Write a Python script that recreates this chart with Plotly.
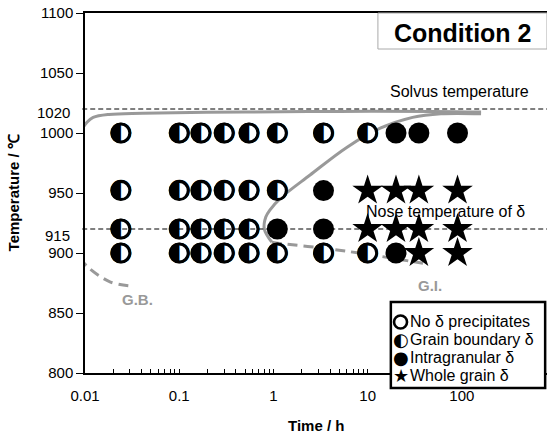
import plotly.graph_objects as go

# ---------------- data ----------------
# Grain boundary delta (half-filled circles)
gb_time = [0.024, 0.1, 0.17, 0.3, 0.55, 1.1, 3.4, 10,
           0.024, 0.1, 0.17, 0.3, 0.55, 1.1,
           0.024, 0.1, 0.17, 0.3, 0.55,
           0.024, 0.1, 0.17, 0.3, 0.55, 1.1, 3.4, 10]
gb_temp = [1000] * 8 + [952] * 6 + [920] * 5 + [900] * 8

# Intragranular delta (filled circles)
ig_time = [20, 35, 90, 3.4, 1.1, 3.4, 20]
ig_temp = [1000, 1000, 1000, 952, 920, 920, 900]

# Whole grain delta (stars)
wg_time = [10, 20, 35, 90, 10, 20, 35, 90, 35, 90]
wg_temp = [952] * 4 + [920] * 4 + [900] * 2

# boundary curves
gb_upper_time = [0.0091, 0.0105, 0.0122, 0.018, 0.041, 0.5, 5, 50, 160]
gb_upper_temp = [1002, 1009, 1013, 1015.5, 1016.5, 1017.5, 1018, 1018, 1017.5]

gi_upper_time = [0.96, 0.80, 0.83, 0.921, 1.2, 2.45, 6, 13.6, 30, 60, 160]
gi_upper_temp = [909, 920, 930, 936, 946, 965, 988, 1004, 1013, 1016, 1016]

gb_lower_time = [0.0088, 0.0108, 0.0184, 0.030]
gb_lower_temp = [896, 888, 876, 872.5]

gi_lower_time = [0.96, 1.175, 3.39, 9.8, 38.7]
gi_lower_temp = [909, 908, 904, 899, 891.4]

solvus_temp = 1020
nose_temp = 920

x_major = [0.01, 0.1, 1, 10, 100]
x_major_text = ["0.01", "0.1", "1", "10", "100"]
y_tickvals = [800, 850, 900, 950, 1000, 1050, 1100]
y_ticktext = ["800", "850", "900", "950", "1000", "1050", "1100"]
extra_labels = [("1020", 1017), ("915", 915)]

legend_items = ["No δ precipitates", "Grain boundary δ", "Intragranular δ", "Whole grain δ"]
legend_symbols = [None, "◐", "●", "★"]

FONT = "Liberation Sans, Arial, sans-serif"
GRAY = "#999999"

# tick positions 1..9 per decade (labels only on decades)
x_tickvals, x_ticktext = [], []
for d, lab in zip(x_major, x_major_text):
    for m in range(1, 10):
        v = round(d * m, 6)
        if v > 800:
            break
        x_tickvals.append(v)
        x_ticktext.append(lab if m == 1 else "")

fig = go.Figure()

# curves
fig.add_trace(go.Scatter(x=gb_upper_time, y=gb_upper_temp, mode="lines",
                         line=dict(color=GRAY, width=3, shape="spline"), showlegend=False))
fig.add_trace(go.Scatter(x=gi_upper_time, y=gi_upper_temp, mode="lines",
                         line=dict(color=GRAY, width=3, shape="spline"), showlegend=False))
fig.add_trace(go.Scatter(x=gb_lower_time, y=gb_lower_temp, mode="lines",
                         line=dict(color=GRAY, width=3, shape="spline", dash="10px,6px"),
                         showlegend=False))
fig.add_trace(go.Scatter(x=gi_lower_time, y=gi_lower_temp, mode="lines",
                         line=dict(color=GRAY, width=3, shape="spline", dash="10px,6px"),
                         showlegend=False))

# grain boundary: white disc with black ring + half-black glyph
fig.add_trace(go.Scatter(x=gb_time, y=gb_temp, mode="markers+text",
                         marker=dict(symbol="circle", size=18, color="white",
                                     line=dict(color="black", width=3)),
                         text=["◐"] * len(gb_time), textposition="middle center",
                         textfont=dict(family="DejaVu Sans", size=27, color="black"),
                         showlegend=False))
fig.add_trace(go.Scatter(x=ig_time, y=ig_temp, mode="markers",
                         marker=dict(symbol="circle", size=21, color="black",
                                     line=dict(width=0)), showlegend=False))
fig.add_trace(go.Scatter(x=wg_time, y=wg_temp, mode="markers",
                         marker=dict(symbol="star", size=23, color="black",
                                     line=dict(width=0)), showlegend=False))

# reference lines
for t in (solvus_temp, nose_temp):
    fig.add_shape(type="line", xref="paper", yref="y", x0=-0.006, x1=1, y0=t, y1=t,
                  line=dict(color="black", width=1, dash="5px,3px"))

ann = []
for txt, yv in extra_labels:
    ann.append(dict(x=0, xref="paper", y=yv, yref="y", text=txt, showarrow=False,
                    xanchor="right", yanchor="middle", xshift=-13,
                    font=dict(family=FONT, size=15, color="black")))

ann += [
    dict(x=1.970, y=1034.6, xref="x", yref="y", text="Solvus temperature", showarrow=False,
         xanchor="center", yanchor="middle", font=dict(family=FONT, size=16, color="black")),
    dict(x=1.822, y=934.3, xref="x", yref="y", text="Nose temperature of δ", showarrow=False,
         xanchor="center", yanchor="middle", font=dict(family=FONT, size=16, color="black")),
    dict(x=-1.448, y=861, xref="x", yref="y", text="<b>G.B.</b>", showarrow=False,
         xanchor="center", yanchor="middle", font=dict(family=FONT, size=15, color=GRAY)),
    dict(x=1.662, y=873.3, xref="x", yref="y", text="<b>G.I.</b>", showarrow=False,
         xanchor="center", yanchor="middle", font=dict(family=FONT, size=15, color=GRAY)),
    dict(x=0.817, y=0.944, xref="paper", yref="paper", text="<b>Condition 2</b>", showarrow=False,
         xanchor="center", yanchor="middle", font=dict(family=FONT, size=25, color="black")),
    dict(x=-0.155, y=0.5, xref="paper", yref="paper", text="<b>Temperature / ℃</b>",
         textangle=-90, showarrow=False, xanchor="center", yanchor="middle",
         font=dict(family=FONT, size=15, color="black")),
    dict(x=0.5, y=-0.147, xref="paper", yref="paper", text="<b>Time / h</b>",
         showarrow=False, xanchor="center", yanchor="middle",
         font=dict(family=FONT, size=15, color="black")),
]

# condition box and legend box
fig.add_shape(type="rect", xref="paper", yref="paper", x0=0.634, x1=1.0, y0=0.9, y1=1.0,
              line=dict(color="#aaaaaa", width=1), fillcolor="white", layer="above")
fig.add_shape(type="rect", xref="paper", yref="paper", x0=0.662, x1=0.996, y0=-0.042, y1=0.197,
              line=dict(color="black", width=2.5), fillcolor="white", layer="above")

leg_y = [0.1417, 0.0917, 0.0417, -0.0083]
leg_sym_x = 0.683
for lab, sym, yy in zip(legend_items, legend_symbols, leg_y):
    if sym is None:
        fig.add_shape(type="circle", xref="paper", yref="paper",
                      xsizemode="pixel", ysizemode="pixel", xanchor=leg_sym_x, yanchor=yy,
                      x0=-6.5, x1=6.5, y0=-6.5, y1=6.5,
                      line=dict(color="black", width=2.6), fillcolor="white", layer="above")
    else:
        ann.append(dict(x=leg_sym_x, y=yy, xref="paper", yref="paper", text=sym,
                        showarrow=False, xanchor="center", yanchor="middle",
                        font=dict(family="DejaVu Sans", size=18, color="black")))
    ann.append(dict(x=0.700, y=yy, xref="paper", yref="paper", text=lab, showarrow=False,
                    xanchor="left", yanchor="middle",
                    font=dict(family=FONT, size=16, color="black")))

fig.update_layout(
    width=547, height=440,
    margin=dict(l=85, r=0, t=13, b=67),
    paper_bgcolor="white", plot_bgcolor="white",
    showlegend=False,
    annotations=ann,
    font=dict(family=FONT, size=15, color="black"),
)
fig.update_xaxes(type="log", range=[-2, 2.904], showline=True, linecolor="black", linewidth=1.5,
                 mirror=True, ticks="inside", ticklen=4, tickcolor="black", tickwidth=1,
                 tickvals=x_tickvals, ticktext=x_ticktext, showgrid=False, zeroline=False,
                 ticklabelstandoff=8, tickfont=dict(family=FONT, size=15))
fig.update_yaxes(range=[800, 1100], showline=True, linecolor="black", linewidth=1.5,
                 ticks="outside", ticklen=7, tickcolor="black", tickwidth=1,
                 tickvals=y_tickvals, ticktext=y_ticktext, showgrid=False, zeroline=False,
                 tickfont=dict(family=FONT, size=15))

fig.write_html("out.html")
